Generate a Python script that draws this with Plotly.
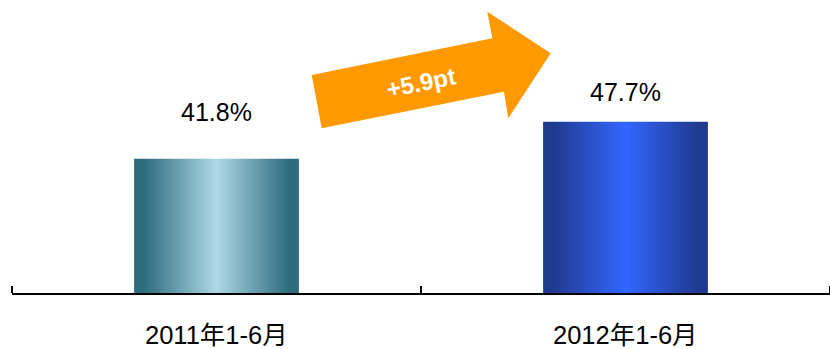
import plotly.graph_objects as go

# ---- data ----
categories = ["2011年1-6月", "2012年1-6月"]
values = [41.8, 47.7]
value_labels = ["41.8%", "47.7%"]
change_label = "+5.9pt"

# ---- style ----
W, H = 830, 349
ML, MR, MT, MB = 12, 0, 0, 56
PW, PH = W - ML - MR, H - MT - MB
y_range = [20.43, 67.1]
x_range = [-0.5, 1.5]
bar_width = 0.403
bar_scales = [
    [[0, "#2E6C7E"], [0.06, "#2E6C7E"], [0.5, "#ADD8E6"], [0.94, "#2E6C7E"], [1, "#2E6C7E"]],
    [[0, "#1F3A8F"], [0.06, "#1F3A8F"], [0.5, "#3366FF"], [0.94, "#1F3A8F"], [1, "#1F3A8F"]],
]
label_shift = [47, 30]
FONT = "Liberation Sans, Arial, Noto Sans CJK SC, sans-serif"

fig = go.Figure()
for i, (cat, v) in enumerate(zip(categories, values)):
    x0, x1 = i - bar_width / 2, i + bar_width / 2
    base = y_range[0]
    fig.add_trace(go.Scatter(
        x=[x0, x0, x1, x1, x0], y=[base, v, v, base, base],
        mode="lines", line=dict(width=0), fill="toself",
        fillgradient=dict(type="horizontal", colorscale=bar_scales[i], start=x0, stop=x1),
        hoverinfo="skip", showlegend=False,
    ))
    fig.add_annotation(x=i, y=v, text=value_labels[i], showarrow=False,
                       yanchor="middle", yshift=label_shift[i],
                       font=dict(family=FONT, size=25, color="black"))
    fig.add_annotation(x=i, y=0, yref="paper", text=cat, showarrow=False,
                       yanchor="middle", yshift=-41.5,
                       font=dict(family=FONT, size=25.5, color="black"))

# decorative arrow (pixel -> paper)
def px(x):
    return (x - ML) / PW
def py(y):
    return (MT + PH - y) / PH

arrow_pts = [(321.7, 128.3), (311.7, 75), (492.3, 38.3), (487.3, 11.7),
             (550.7, 53.3), (508.3, 118.3), (504, 91.7)]
path = "M " + " L ".join(f"{px(a):.5f},{py(b):.5f}" for a, b in arrow_pts) + " Z"
fig.add_shape(type="path", path=path, xref="paper", yref="paper",
              fillcolor="#FF9900", line=dict(width=0), layer="below")
fig.add_annotation(x=px(421.5), y=py(82.5), xref="paper", yref="paper",
                   xanchor="center", yanchor="middle",
                   text=f"<b>{change_label}</b>", showarrow=False, textangle=-11.5,
                   font=dict(family=FONT, size=24, color="white"))

fig.update_layout(
    width=W, height=H, margin=dict(l=ML, r=MR, t=MT, b=MB),
    plot_bgcolor="rgba(0,0,0,0)", paper_bgcolor="white",
    xaxis=dict(range=x_range, showgrid=False, zeroline=False, showline=True,
               linecolor="black", linewidth=2, tickvals=[], showticklabels=False,
               minor=dict(tickvals=[-0.5, 0.5, 1.5], ticks="inside", ticklen=7,
                          tickwidth=2, tickcolor="black", showgrid=False)),
    yaxis=dict(range=y_range, visible=False, showgrid=False, zeroline=False),
)
fig.write_html("out.html")
